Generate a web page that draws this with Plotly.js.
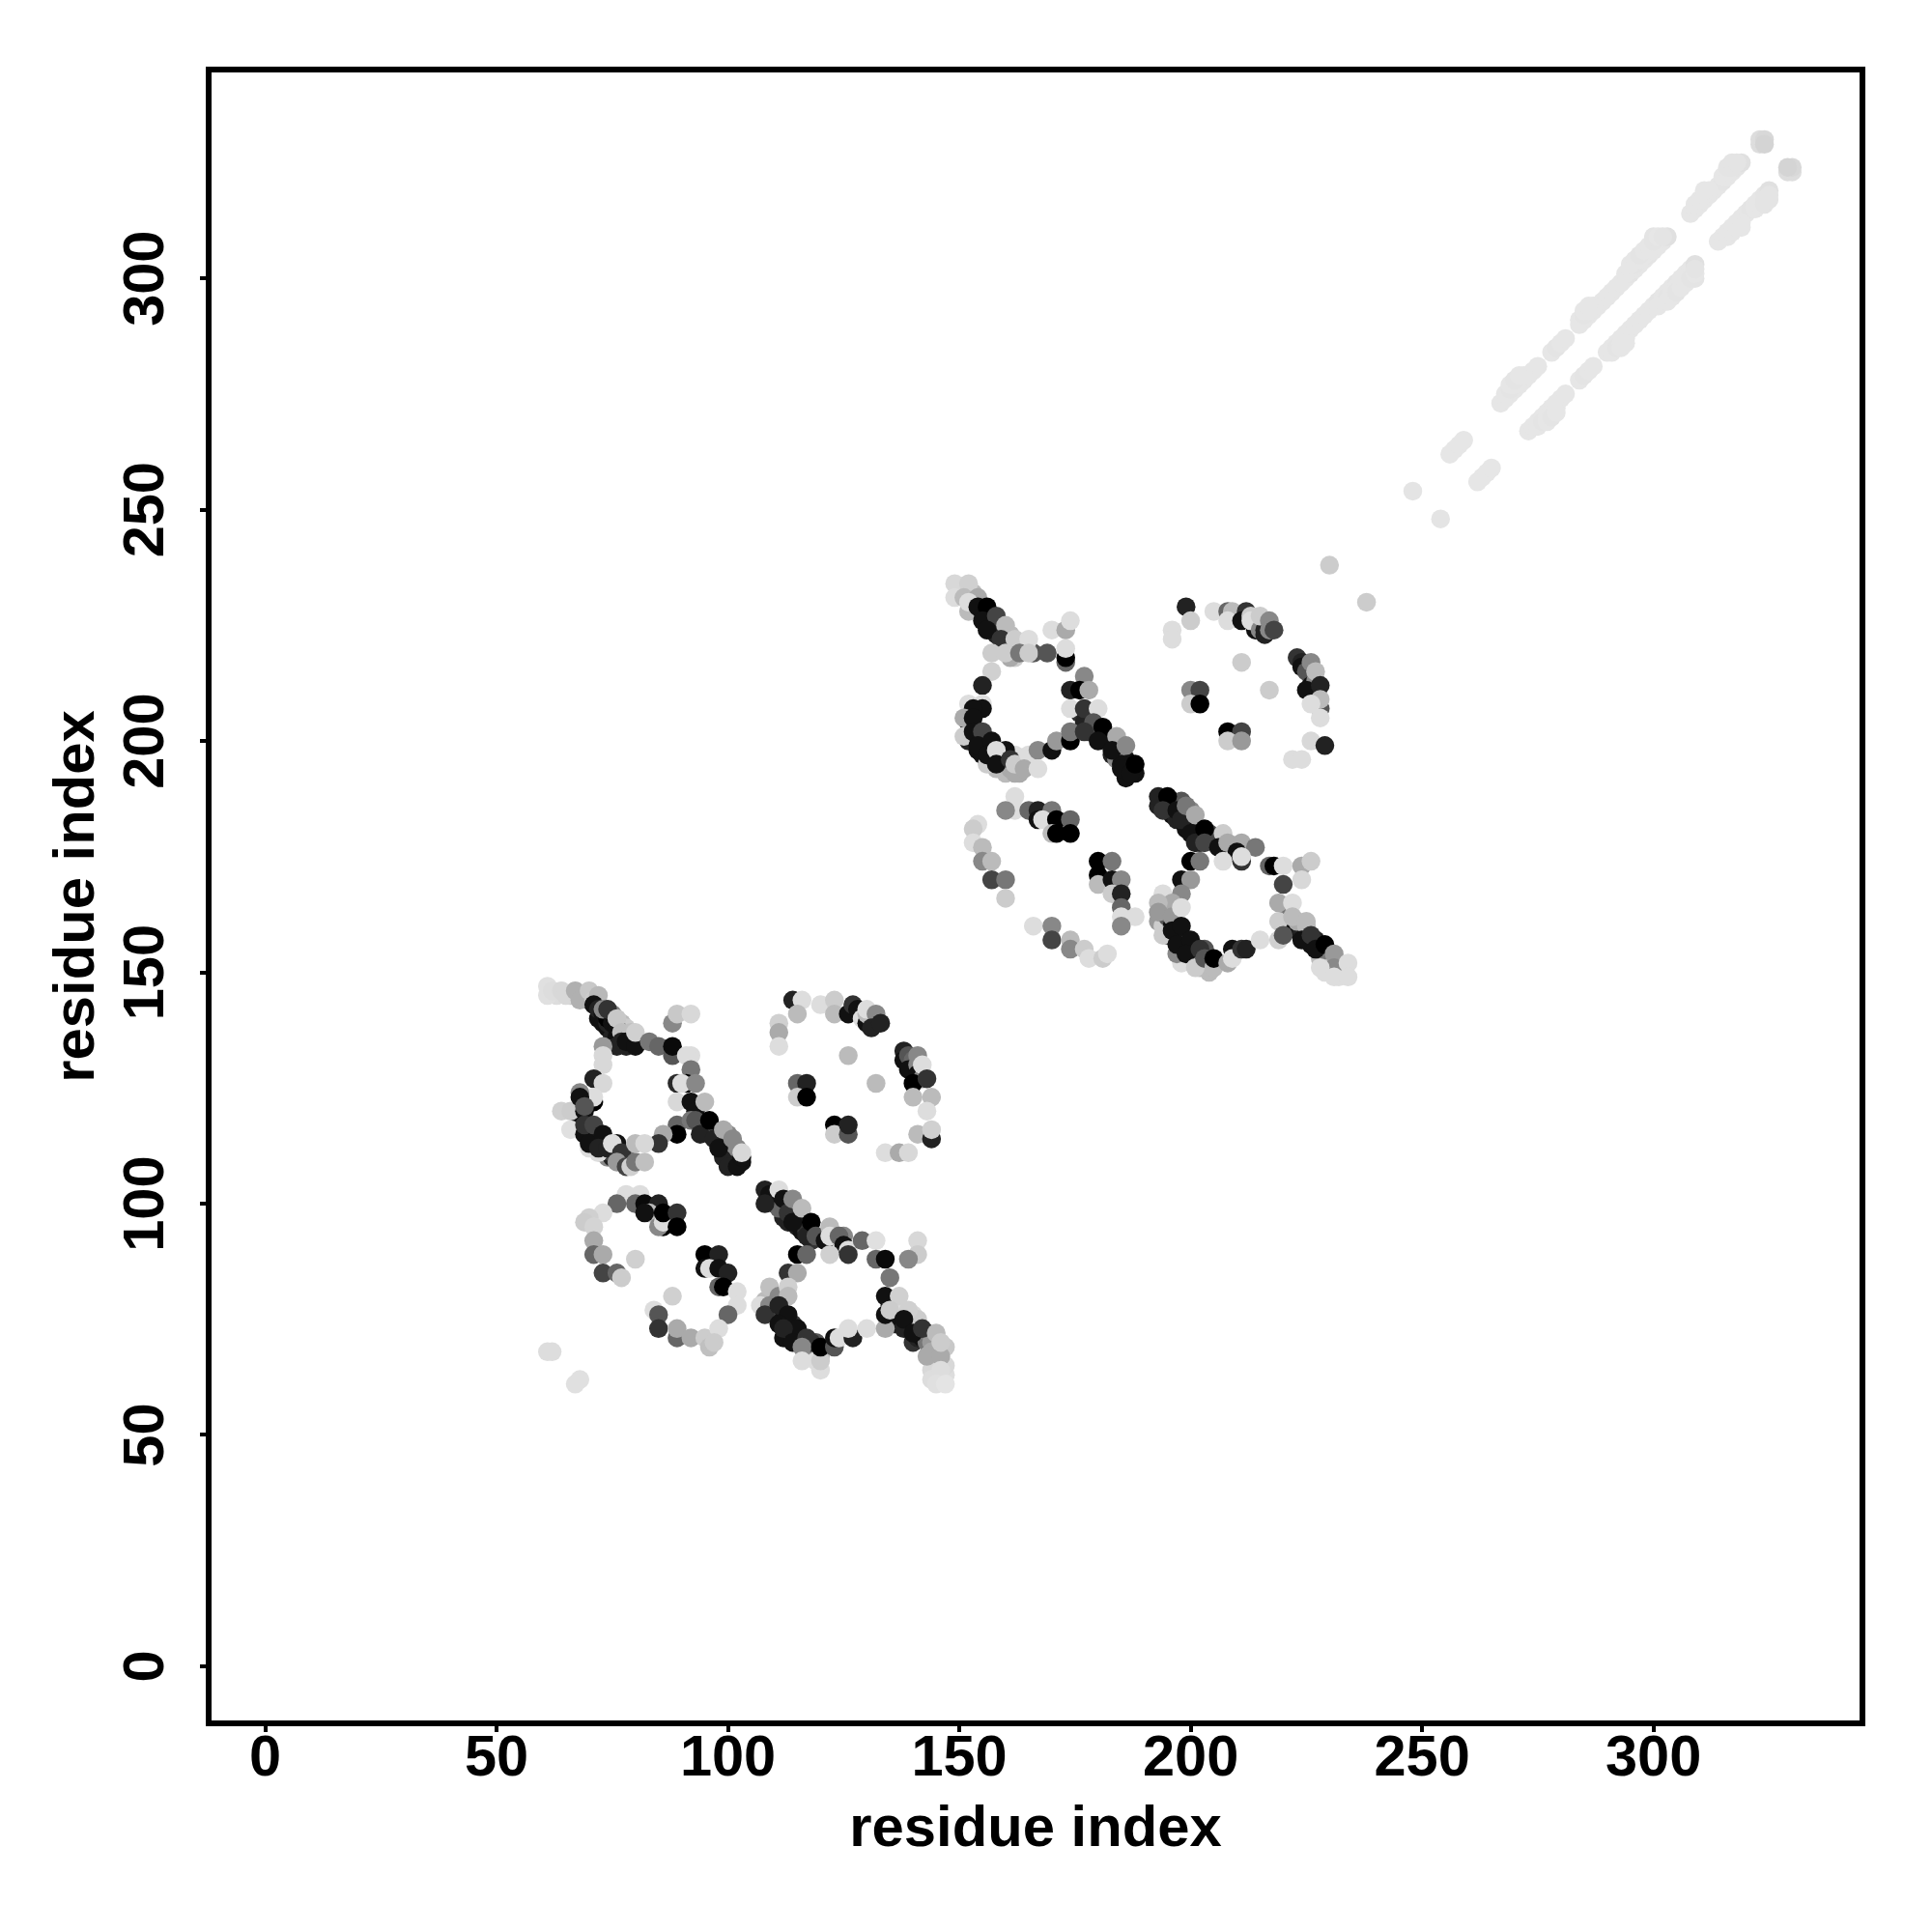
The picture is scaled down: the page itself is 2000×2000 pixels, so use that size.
<!DOCTYPE html>
<html><head><meta charset="utf-8">
<script src="https://cdn.plot.ly/plotly-3.0.1.min.js"></script>
<style>html,body{margin:0;padding:0;background:#fff}</style></head>
<body><div id="chart" style="width:2000px;height:2000px"></div>
<script>
// each contact: [residue i, residue j, grey level 0-255]
const blockA_topLeft_under = [
[70,145,200],[69,145,187],[68,145,170],[66,145,200],[63,145,221],[70,144,51],[72,143,17],[72,140,17],[73,139,17],[74,138,17],[75,137,17],[75,136,34],[74,141,17],[76,136,17],[77,136,17],[78,134,34],[74,139,34],[75,141,136],[77,139,187],[78,138,204],[79,137,192],
[94,117,17],[95,116,17],[96,115,34],[97,116,0],[98,115,17],[99,113,17],[100,112,17],[101,110,17],[100,111,34],[101,109,17],[102,109,17],[103,109,17],[99,110,34],[98,114,119],[100,115,136],[102,112,136],[101,113,136],[95,117,85],
[68,118,17],[69,116,51],[70,116,85],[70,115,17],[71,114,34],[72,115,102],[72,113,17],[73,113,34],[71,112,17],[73,111,34],[74,110,136],[75,110,34],[75,111,68],[77,110,68],[78,110,119],[76,111,34],[77,109,221],[72,111,221],[70,112,221]
];
const blockA_bottomRight_under = [
[109,101,17],[110,102,17],[110,100,34],[111,101,17],[112,99,17],[113,100,17],[114,99,34],[115,98,17],[115,97,34],[116,97,17],[116,96,17],[117,95,17],[115,95,34],[116,94,17],[117,94,51],[118,92,51],[113,96,34],[112,97,34],[111,99,102],
[108,77,187],[108,79,187],[110,78,136],[110,76,34],[111,76,68],[112,75,17],[113,74,51],[113,72,17],[112,71,17],[114,72,85],[114,74,51],[115,71,17],[115,70,17],[116,70,51],[117,69,136],[118,68,34],[119,70,85],[119,68,17],[118,67,136],[120,67,187],[117,68,136],[118,70,51],[119,66,221],
[135,78,51],[136,76,17],[136,74,34],[137,74,17],[139,73,17],[138,73,34],[140,70,51],[141,71,34],[142,71,17],[143,72,51],[143,70,119],[144,70,153],[144,68,170],[144,66,187],[145,68,170],[145,66,200],[145,64,216],[146,62,224],[144,64,216],[144,62,221],[147,63,221],[147,65,216],[147,69,200],[137,78,221],[140,76,216],[141,75,204]
];
const blockB_topLeft_under = [
[153,232,187],[151,232,204],[150,233,216],[152,228,187],[155,228,17],[156,227,17],[156,226,17],[157,225,17],[158,225,51],[157,224,17],[158,223,34],[159,224,51],[160,221,51],[161,220,85],[159,220,51],[161,223,187],[163,221,204],[164,220,204],[165,220,119],[166,219,85],[162,218,204],[161,218,170],
[152,204,17],[153,203,17],[152,200,34],[153,201,68],[154,201,34],[155,200,85],[154,198,17],[155,199,51],[155,197,17],[156,198,85],[157,197,17],[157,196,51],[159,196,17],[158,194,187],[160,195,85],[159,197,136],[160,193,187],[161,194,170],[163,193,170],[163,196,85],[164,196,119],[162,197,221],[156,195,204],
[179,202,17],[180,201,17],[181,201,51],[182,200,17],[183,199,17],[184,198,17],[183,197,34],[185,197,17],[185,196,17],[186,196,17],[186,194,17],[187,195,17],[186,192,17],[188,193,17],[184,196,136],[185,195,17],[176,206,51],[178,206,17],[177,204,34],[178,202,51]
];
const blockB_bottomRight_under = [
[193,186,34],[196,187,17],[195,185,34],[196,184,17],[197,183,34],[198,184,17],[199,182,34],[200,182,17],[201,181,17],[202,181,17],[202,179,34],[199,181,17],[200,185,136],[204,180,68],[198,187,85],[202,178,51],
[193,161,153],[194,160,204],[195,162,85],[196,160,17],[197,159,51],[195,158,51],[198,158,17],[197,157,68],[198,156,17],[199,156,51],[199,155,34],[200,155,17],[201,153,17],[202,153,51],[200,153,119],[202,151,187],[203,155,85],[204,152,119],[204,150,187],[198,152,221],[197,154,136],[194,158,204],
[221,163,119],[220,160,221],[221,161,85],[222,160,17],[223,159,17],[224,159,34],[225,158,17],[226,156,17],[227,157,34],[228,155,17],[229,154,34],[228,153,187],[229,152,136],[230,153,119],[230,151,187],[229,150,221],[232,152,200],[233,150,221],[232,149,221],[223,161,170],[225,160,187]
];
const blockA_topLeft = [
[61,147,224],[61,145,224],[62,146,221],[64,146,216],[65,145,216],[67,146,176],[68,144,176],[70,146,200],[71,144,204],[72,145,184],
[71,143,17],[72,142,34],[73,141,17],[74,140,0],[73,142,136],[75,139,17],[76,138,17],[74,142,51],[76,140,200],[77,137,192],
[77,135,34],[76,134,34],[78,135,17],[80,134,17],[80,137,208],[73,134,153],[83,135,119],[85,134,102],[88,132,85],[88,134,10],
[88,139,136],[89,141,200],[92,141,216],[92,132,221],[91,132,221],[92,129,119],[89,126,42],[91,126,0],[90,126,221],[93,126,136],
[89,122,216],[92,122,17],[93,120,17],[95,122,187],[89,117,102],[89,115,0],[86,115,170],[85,113,51],
[92,118,119],[93,118,85],[94,115,34],[96,118,0],[97,114,34],[98,112,17],[99,116,170],[101,114,136],[100,108,34],[102,108,17],[103,110,17],[103,111,216],
[73,132,216],[73,130,216],[71,127,34],[73,126,216],[71,122,0],[71,123,221],
[64,120,208],[66,120,204],[66,116,224],[68,124,136],[68,123,17],[69,120,17],[69,121,85],[69,115,17],[69,117,51],[71,117,68],
[70,113,17],[73,115,17],[72,112,34],[74,112,34],[76,113,17],[75,113,221],[77,111,51],[76,109,153],[78,108,68],[79,108,208],[80,109,119],[80,113,187],[82,113,216],[82,109,192]
];
const blockA_bottomLeft = [
[78,102,221],[81,102,221],[76,100,102],[73,98,221],[70,97,208],[69,96,204],[71,95,212],[71,92,170],[71,89,102],[73,89,170],[73,85,68],[76,85,102],[77,84,204],[80,88,208],
[80,100,102],[82,100,10],[85,100,34],[83,98,187],[82,98,17],[86,95,0],[85,95,136],[86,96,221],[86,98,0],[89,98,51],[89,95,0],
[95,89,0],[98,89,34],[95,86,17],[96,86,221],[98,86,17],[100,85,34],[98,82,102],[99,82,0],[102,81,221],[102,78,221],[100,76,102],[88,80,208],
[84,77,221],[85,76,85],[85,73,51],[89,71,102],[89,73,170],[92,71,170],[95,71,204],[98,73,221],[96,69,192],[97,70,204],
[61,68,221],[62,68,221],[67,61,224],[68,62,224]
];
const blockA_bottomRight = [
[108,103,34],[109,102,17],[108,100,34],[111,103,221],[112,101,17],[113,98,51],[114,96,17],[114,101,136],[116,99,187],[117,93,34],[118,96,0],[119,93,85],
[122,95,187],[121,92,17],[122,93,221],[125,93,136],[124,93,102],[125,91,17],[126,90,221],[122,89,208],[126,89,51],[129,92,102],[132,92,224],[132,88,102],[134,88,10],[141,92,216],[141,89,204],[139,88,136],
[115,89,0],[117,89,102],[113,85,51],[115,85,170],[135,84,119],
[109,82,192],[111,80,136],[107,78,221],[109,78,136],[108,76,51],[113,82,208],[113,80,187],[111,78,34],[113,76,17],[115,73,17],[111,74,17],[112,73,34],[114,70,17],
[117,71,51],[116,69,136],[116,66,221],[120,64,221],[120,66,204],[120,69,0],[123,69,85],[123,71,17],[124,71,221],[127,71,34],[126,73,221],[130,73,221],[134,73,170],
[134,80,17],[137,80,208],[134,76,17],[135,77,204],[139,77,208],[138,75,17],[140,72,17],[142,73,51],[143,67,170],[145,72,187],[146,67,170],[146,70,204],[146,64,221],[145,61,224],[147,61,228]
];
const blockA_topRight = [
[114,144,34],[116,144,221],[115,141,187],[120,143,221],[123,144,204],[123,141,187],[126,141,17],[127,143,51],
[128,142,17],[129,141,17],[129,140,221],[130,139,17],[131,140,136],[132,139,34],[130,141,187],
[130,142,221],[132,141,136],[131,138,34],[133,139,34],
[111,139,208],[111,137,170],[111,134,221],[126,132,187],[132,126,187],[115,126,102],[117,126,34],[115,123,204],[117,123,0],[123,117,0],[123,115,204],[126,115,85],[126,117,34],
[138,133,34],[138,131,17],[139,132,85],[140,131,102],[139,129,17],[141,130,136],[141,128,17],[142,127,136],
[141,132,136],[142,130,221],[140,126,0],[143,127,51],[140,123,187],[144,123,187],[143,120,221],[141,115,187],[144,114,34],[144,116,208],[134,111,221],[137,111,170],[139,111,216]
];
const blockB_topLeft = [
[149,234,216],[152,234,208],[149,231,221],[151,231,187],[154,231,170],[152,230,221],[154,229,17],[156,229,0],[155,226,17],[158,227,68],[156,224,17],[160,225,187],
[159,222,51],[162,222,204],[165,222,221],[170,224,221],[173,224,170],[174,226,221],[157,219,204],[160,219,204],[163,219,119],[165,219,204],[169,219,85],[173,217,102],[173,218,0],[173,220,221],
[157,215,208],[155,212,34],[155,208,221],[155,207,17],[152,208,221],[153,207,17],[151,205,170],[153,205,17],[151,201,204],[153,202,17],[155,202,68],[154,199,17],[157,200,17],
[156,197,17],[160,198,17],[158,198,221],[158,195,17],[161,196,51],[162,193,170],[162,195,204],[165,197,221],[167,198,136],[164,194,170],[167,194,221],[170,198,17],[171,200,153],[174,200,0],[174,202,119],
[177,214,136],[174,211,34],[176,211,0],[178,211,170],[174,207,221],[177,207,51],[180,207,221],[179,204,85],[181,203,0],[177,202,51],[180,200,17],[184,201,170],[183,198,17],[186,199,136],[185,194,17],[187,193,17],[188,195,0]
];
const blockB_bottomLeft = [
[162,188,221],[162,185,221],[160,185,136],[165,185,102],[167,185,34],[170,185,119],[167,183,17],[168,183,221],[171,183,0],[174,183,102],[170,180,187],[171,180,0],[174,180,0],
[154,182,221],[153,181,204],[153,178,221],[155,177,187],[155,174,136],[157,174,187],[157,170,68],[160,170,119],[160,166,204],
[180,174,0],[183,174,119],[180,171,0],[180,169,187],[183,170,17],[185,170,136],[183,167,204],[185,167,34],[185,164,102],[185,162,221],[188,162,221],[185,160,136],
[166,160,221],[170,160,136],[170,157,68],[174,157,187],[174,155,136],[177,155,204],[178,153,221],[181,153,204],[182,154,221]
];
const blockB_bottomRight = [
[193,188,34],[195,188,0],[194,185,51],[197,185,17],[198,183,34],[199,186,119],[201,184,170],[200,180,17],[201,178,34],[203,181,0],[203,178,68],[207,180,204],[206,177,17],[208,178,170],[211,178,170],[214,177,119],[210,176,17],
[207,174,221],[211,174,51],[211,175,221],[200,174,0],[202,174,119],[198,170,17],[200,170,153],[194,167,221],[198,167,136],[196,165,170],[193,165,187],[193,163,153],[196,162,153],[198,164,221],
[196,159,17],[198,160,17],[197,156,17],[200,157,17],[199,154,17],[202,155,51],[201,151,204],[203,153,85],[205,151,187],[205,153,0],[208,152,170],[209,155,17],[209,153,221],[211,155,51],[212,155,34],[215,157,221],[219,157,208],
[217,173,102],[218,173,0],[220,173,221],[224,173,170],[226,174,204],[224,170,216],[220,169,68],[219,165,170],[219,161,204],[222,165,221],[222,162,187],[220,158,85],[225,161,187],[224,157,17],[226,158,51],[227,155,17],[229,156,0],[231,154,153],[231,151,136],[228,151,221],[231,149,221],[234,152,221],[234,149,221]
];
const blockB_topRight = [
[199,229,34],[200,226,204],[196,224,221],[196,222,221],[205,228,221],[208,228,102],[209,228,187],[208,226,221],[212,228,51],[211,226,17],
[213,227,204],[214,226,102],[215,225,17],[214,224,17],[213,226,221],[215,224,136],[216,224,34],
[215,227,204],[217,226,136],[216,223,34],[217,224,136],[218,224,68],
[211,217,204],[217,211,204],[200,211,136],[202,211,68],[200,208,204],[202,208,0],[208,202,0],[211,202,68],[208,200,204],[211,200,153],
[223,218,51],[224,217,34],[224,216,17],[225,215,85],[226,214,85],[226,212,17],[227,213,136],
[226,217,136],[227,215,187],[225,211,17],[228,212,34],[228,207,85],[228,209,187],[226,208,221],[228,205,221],[226,200,216],[229,199,34],[222,196,221],[224,196,221]
];
const bridgeContacts = [[230,238,204],[238,230,204],[248,254,228],[254,248,228]];
const farBandUpper = [
[256,262,230],[257,263,230],[258,264,230],[259,265,230],
[267,273,230],[268,274,230],[269,275,230],[270,276,230],[271,277,230],[272,278,230],[273,279,230],[274,280,230],[275,281,230],
[268,275,230],[269,276,228],[270,277,230],[271,278,230],[272,279,230],[269,277,230],[270,278,228],[271,279,230],
[278,284,230],[279,285,228],[280,286,230],[281,287,230],
[284,290,230],[285,291,230],[286,292,230],[287,293,230],[288,294,230],[289,295,230],[290,296,230],[291,297,230],[292,298,230],
[284,291,230],[285,292,228],[286,293,230],[287,294,230],[285,293,230],[286,294,230],
[293,299,230],[294,300,230],[295,301,228],[296,302,230],[297,303,230],[298,304,230],[299,305,228],[300,306,230],[301,307,230],[302,308,230],[303,309,224],
[294,301,230],[295,302,230],[296,303,228],[297,304,230],[298,305,230],[299,306,230],[300,307,230],[295,303,230],[296,304,230],[297,305,228],[298,306,230],[299,307,230],[300,308,228],[300,309,228],[301,309,230],[302,309,228],
[308,314,230],[309,315,230],[310,316,230],[311,317,230],[312,318,230],[313,319,230],[314,320,230],[315,321,228],[316,322,230],[317,323,230],[318,324,228],[319,325,224],
[309,316,230],[310,317,230],[311,318,230],[312,319,230],[315,322,230],[316,323,230],[317,324,228],[311,319,230],[316,324,228],[317,325,228],[318,325,228],
[323,329,221],[323,330,221],[324,330,216],[324,329,212]
];
const farBandLower = [
[262,256,230],[263,257,230],[264,258,230],[265,259,230],
[273,267,230],[274,268,230],[275,269,230],[276,270,230],[277,271,230],[278,272,230],[279,273,230],[280,274,230],[281,275,230],
[275,268,230],[276,269,228],[277,270,230],[278,271,230],[279,272,230],[277,269,230],[278,270,228],[279,271,230],
[284,278,230],[285,279,228],[286,280,230],[287,281,230],
[290,284,230],[291,285,230],[292,286,230],[293,287,230],[294,288,230],[295,289,230],[296,290,230],[297,291,230],[298,292,230],
[291,284,230],[292,285,228],[293,286,230],[294,287,230],[293,285,230],[294,286,230],
[299,293,230],[300,294,230],[301,295,228],[302,296,230],[303,297,230],[304,298,230],[305,299,228],[306,300,230],[307,301,230],[308,302,230],[309,303,224],
[301,294,230],[302,295,230],[303,296,228],[304,297,230],[305,298,230],[306,299,230],[307,300,230],[303,295,230],[304,296,230],[305,297,228],[306,298,230],[307,299,230],[308,300,228],[309,300,228],[309,301,230],[309,302,228],
[314,308,230],[315,309,230],[316,310,230],[317,311,230],[318,312,230],[319,313,230],[320,314,230],[321,315,228],[322,316,230],[323,317,230],[324,318,228],[325,319,224],
[316,309,230],[317,310,230],[318,311,230],[319,312,230],[322,315,230],[323,316,230],[324,317,228],[319,311,230],[324,316,228],[325,317,228],[325,318,228],
[329,323,221],[330,323,221],[330,324,216],[329,324,212]
];
const tickValues = [0,50,100,150,200,250,300];
const axisTitle = "residue index";

const blocks = [farBandUpper, farBandLower, bridgeContacts,
  blockA_topLeft_under, blockA_topLeft, blockA_bottomLeft, blockA_bottomRight_under, blockA_bottomRight, blockA_topRight,
  blockB_topLeft_under, blockB_topLeft, blockB_bottomLeft, blockB_bottomRight_under, blockB_bottomRight, blockB_topRight];
const traces = blocks.map(b => ({
  type:'scatter', mode:'markers', showlegend:false, hoverinfo:'skip',
  x:b.map(p=>p[0]), y:b.map(p=>p[1]),
  marker:{size:19.5, line:{width:0}, opacity:1, color:b.map(p=>`rgb(${p[2]},${p[2]},${p[2]})`)}
}));
const F = {family:'"Liberation Sans", Arial, sans-serif', size:59.5, color:'#000', weight:700};
const axis = (range,extra)=>Object.assign({
  range:range, autorange:false, tickvals:tickValues, ticktext:tickValues.map(String), tickmode:'array',
  showgrid:false, zeroline:false, showline:true, mirror:true, linecolor:'#000', linewidth:6,
  ticks:'outside', ticklen:6, tickwidth:4, tickcolor:'#000', tickfont:F,
  title:{text:'<b>'+axisTitle+'</b>', font:{family:F.family,size:59.8,color:'#000'}, standoff:8}
},extra);
const layout = {
  width:2000, height:2000, autosize:false, paper_bgcolor:'#fff', plot_bgcolor:'#fff',
  margin:{l:218.8,r:75.3,t:75,b:219,pad:0}, showlegend:false,
  font:{family:F.family},
  xaxis:axis([-11.6,344.55],{}),
  yaxis:axis([-11.7,344.5],{tickangle:-90})
};
Plotly.newPlot('chart',traces,layout,{displayModeBar:false,staticPlot:true}).then(()=>{
  const nudge=(sel,dx,dy)=>document.querySelectorAll(sel).forEach(t=>{
    t.setAttribute('transform',`translate(${dx},${dy}) `+(t.getAttribute('transform')||''));
  });
  nudge('.xtick text',0,-26);
  nudge('.ytick text',-14,9);
  nudge('.xtitle',0,-20);
  nudge('.ytitle',-6,0);
});
</script></body></html>
